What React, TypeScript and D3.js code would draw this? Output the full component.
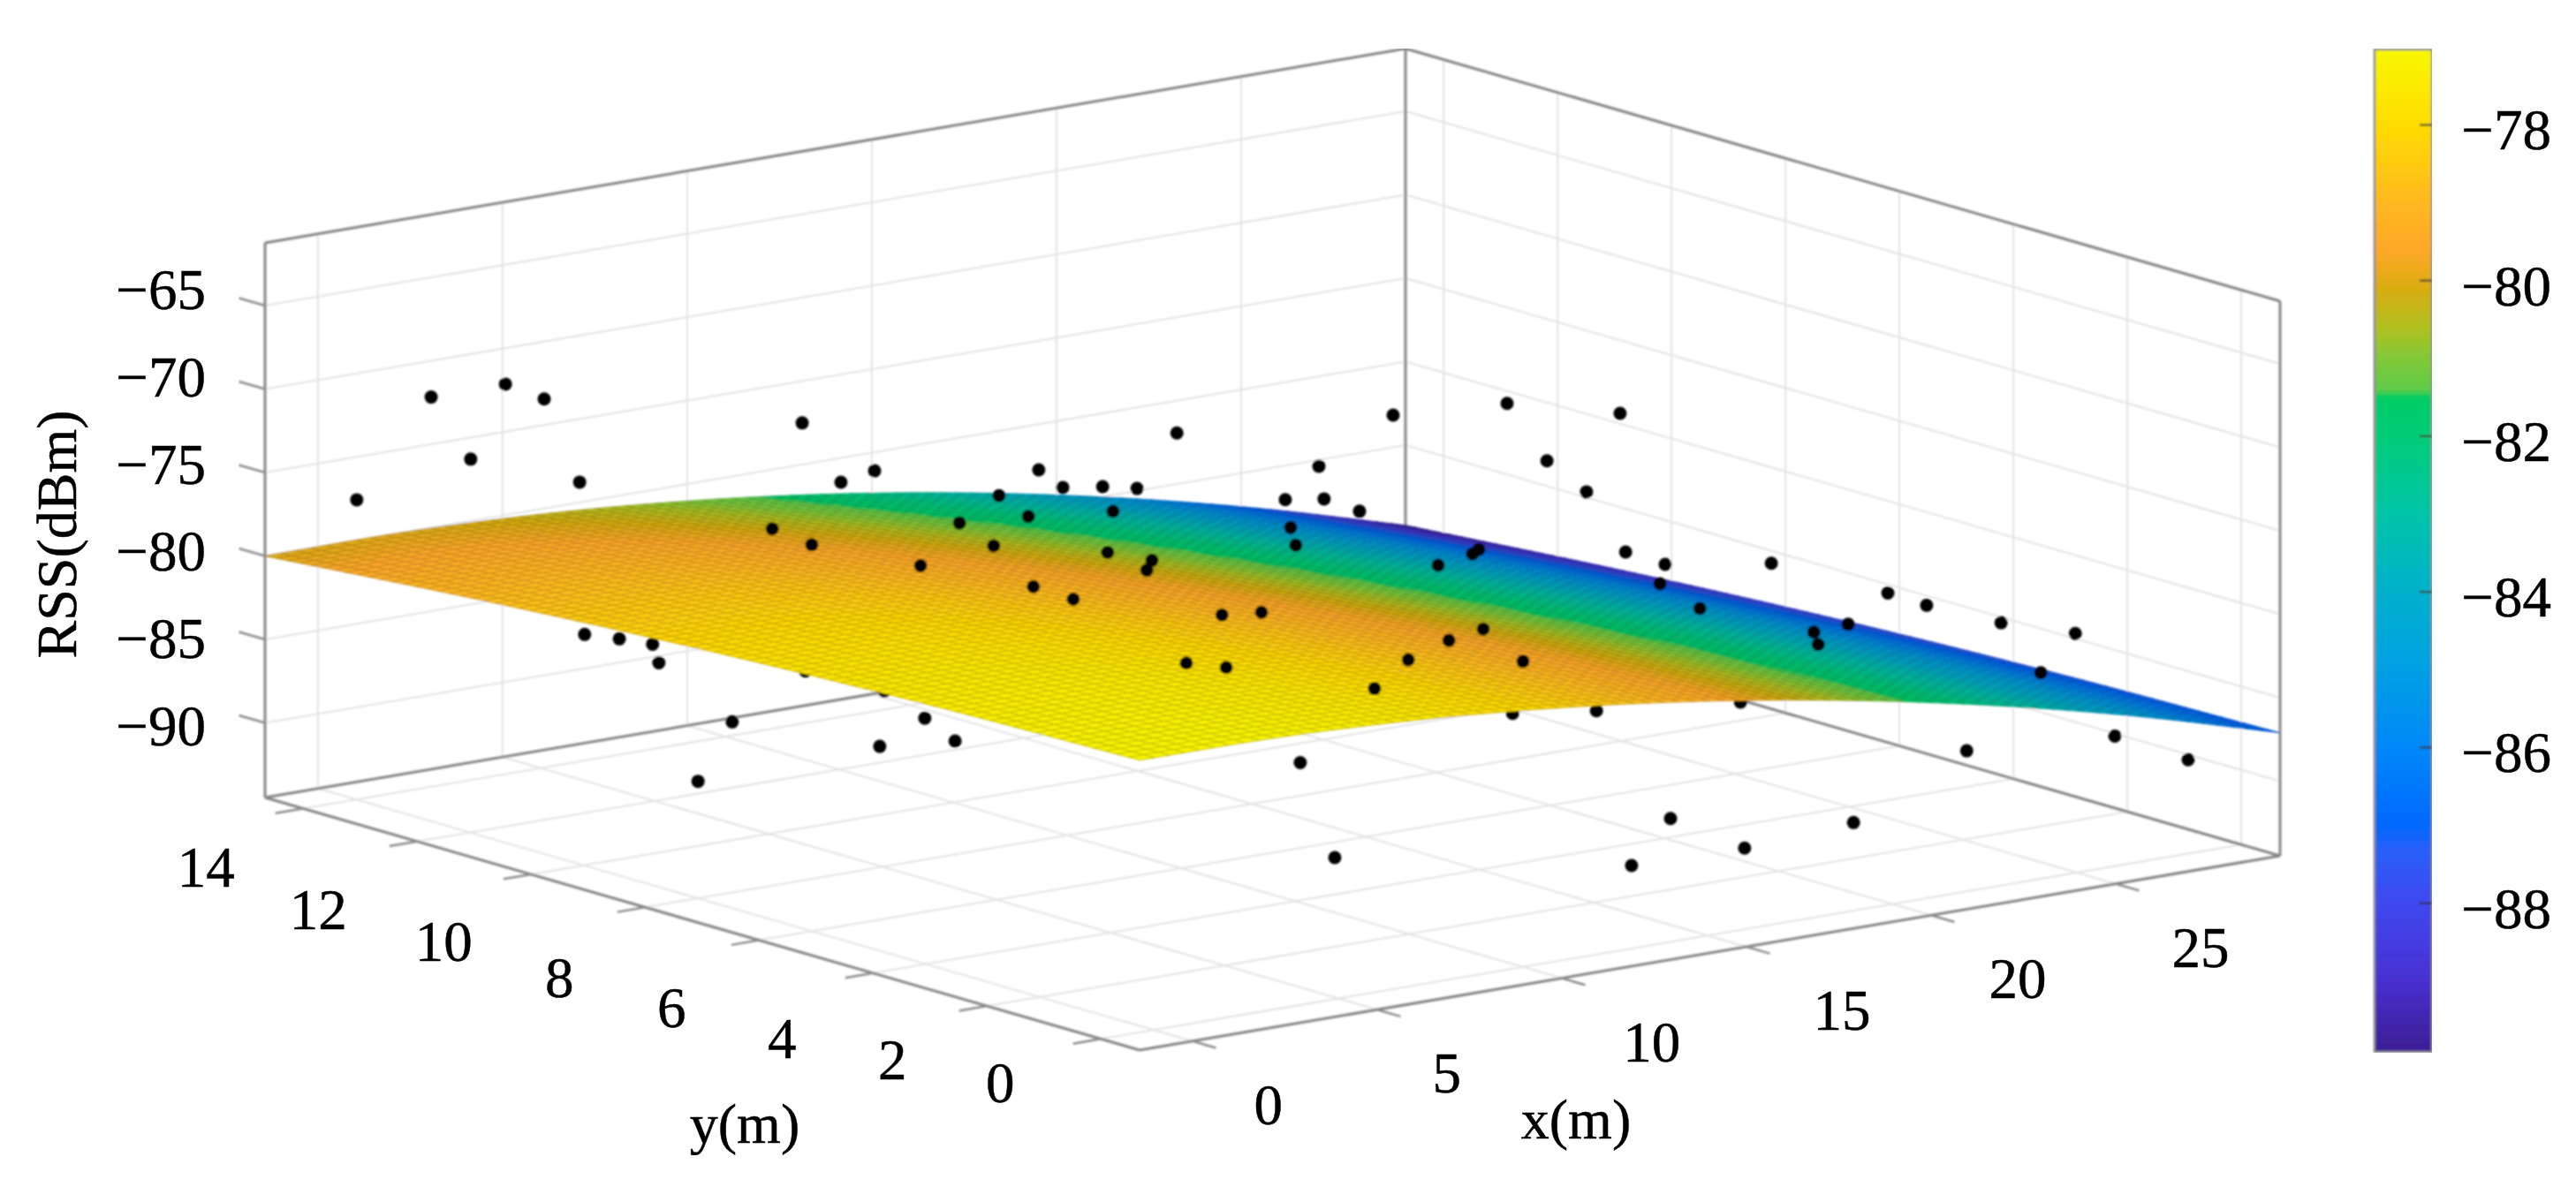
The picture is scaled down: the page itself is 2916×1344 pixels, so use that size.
import React, { useMemo } from "react";
import * as d3 from "d3";

// ---- axes ----
const X_LIMITS = [-1.43, 29.45];
const Y_LIMITS = [-0.68, 14.67];
const Z_LIMITS = [-94.47, -61.24];
const X_TICKS = [0, 5, 10, 15, 20, 25];
const Y_TICKS = [0, 2, 4, 6, 8, 10, 12, 14];
const Z_TICKS = [-65, -70, -75, -80, -85, -90];
const C_TICKS = [-78, -80, -82, -84, -86, -88];
const C_LIMITS = [-89.91, -77.03];

// ---- fitted surface, read at knots ----
const SURFACE_X = [-1.43, 2.43, 6.29, 10.15, 14.01, 17.87, 21.73, 25.59, 29.45];
const SURFACE_Y = [-0.68, 3.16, 6.99, 10.83, 14.67];
const SURFACE_Z_Y0 = [-77.1, -77.16, -77.56, -78.3, -79.38, -80.8, -82.56, -84.66, -87.1];
const SURFACE_Z_Y1 = [-77.44, -77.48, -77.87, -78.6, -79.67, -81.09, -82.85, -84.95, -87.39];
const SURFACE_Z_Y2 = [-78.03, -78.06, -78.43, -79.15, -80.22, -81.63, -83.38, -85.48, -87.93];
const SURFACE_Z_Y3 = [-78.89, -78.91, -79.27, -79.98, -81.03, -82.44, -84.19, -86.29, -88.74];
const SURFACE_Z_Y4 = [-80, -80, -80.35, -81.05, -82.1, -83.5, -85.25, -87.35, -89.8];
const SURFACE_ROWS = [SURFACE_Z_Y0, SURFACE_Z_Y1, SURFACE_Z_Y2, SURFACE_Z_Y3, SURFACE_Z_Y4];

// ---- measured points ----
const POINT_X = [0.02,-1.05,0.96,2.01,0.02,2.97,5.91,6.96,7.87,11.24,5.1,6.17,10.17,8.01,6.03,6.19,7.13,8.03,8.2,12.17,11.22,7.1,9.23,10.05,8.01,3.09,12.97,9.23,13.73,9.88,10.96,11.89,12.82,13.87,14.83,8.95,11.24,16.05,16.19,8.01,9.21,9.07,6,7.08,8.02,9.09,3.97,5.05,9.98,5.98,10.14,7.99,16.82,17.89,18.95,20.02,19.81,19.88,20.96,18.06,17.89,16.96,12.01,11.08,10,15.89,18.16,22.06,17.08,16,12.94,26.05,27.1,26.03,28.04,28.06,20.96,21.08,24.02,29.11,28.01,25.1,18.95,15.74,18.8,15.74];
const POINT_Y = [14,12,12,12,12,12,10,10,10,10,10,10,10,8,8,14,14,14,14,14,12,12,10,10,10,10,8,8,6,8,8,8,6,6,6,8,8,8,8,6,6,6,6,6,4,4,2,2,2,0,4,2,4,4,4,4,2,4,4,6,6,6,2,2,0,4,4,4,2,0,0,4,4,2,2,6,2,2,0,2,0,2,0,4,4,6];
const POINT_Z = [-76.52,-67.99,-67.97,-69.26,-72.11,-74.6,-70.19,-74.14,-73.8,-76.56,-76.23,-77.59,-77.79,-76.37,-76.82,-86.91,-87.53,-88.19,-89.37,-91.36,-90.23,-90.52,-89.13,-90.81,-90.36,-90.6,-71.48,-72.28,-71.79,-73.58,-73.94,-74.4,-73.45,-73.8,-74.9,-74.97,-75.53,-78.31,-79.42,-74.8,-75.73,-76.26,-76.09,-77.25,-76.57,-76.82,-75.96,-76.63,-78.03,-76.27,-86.22,-89.13,-70.66,-72.92,-76.92,-78.07,-75.95,-79.18,-81.07,-78.41,-78.61,-78.94,-76.95,-77.28,-76.16,-85.44,-86.14,-87.09,-90.21,-89.61,-89.5,-82.06,-83.19,-81.86,-83.26,-86.66,-80.51,-81.3,-82.13,-89.81,-88.84,-89.18,-89.19,-66.81,-68.56,-69.48];

// ---- colour map ----
const CMAP_VALUES = [-89.9,-89,-88,-87.3,-87,-86,-85,-84,-83,-82,-81.5,-81.4,-81,-80.6,-80.1,-79.6,-79,-78,-77];
const CMAP_COLORS = ["#3c1e94","#4830d0","#4048f0","#2860f8","#0068ff","#0088f8","#00a0e4","#00b0cc","#00c4a8","#00cc78","#00cc66","#60cc48","#80c838","#b0c020","#d8ac10","#ffa828","#ffb820","#ffdc00","#f8f800"];

// ---- layout ----
const FRONT = { x: 1290, y: 1189 };
const RIGHT = { x: 2581, y: 969 };
const LEFT = { x: 300, y: 903 };
const BOX_H = 628;
const FONT = "'Liberation Serif', 'Times New Roman', serif";
const X_LABEL_DX = [86, 79, 102, 108, 98, 96];
const Y_LABEL_DX = [-114, -107, -103, -99, -97, -99, -112, -110];
const Y_LABEL_DY = [50, 61, 74, 76, 80, 76, 77, 67];
const MESH = 76;

const xF = d3.scaleLinear().domain(X_LIMITS).range([0, 1]);
const yF = d3.scaleLinear().domain(Y_LIMITS).range([0, 1]);
const zF = d3.scaleLinear().domain(Z_LIMITS).range([0, 1]);
const colorOf = d3.scaleLinear<string>().domain(CMAP_VALUES).range(CMAP_COLORS).interpolate(d3.interpolateRgb).clamp(true);

function project(x: number, y: number, z: number): [number, number] {
  const t = xF(x), s = yF(y), h = zF(z);
  return [
    FRONT.x + t * (RIGHT.x - FRONT.x) + s * (LEFT.x - FRONT.x),
    FRONT.y + t * (RIGHT.y - FRONT.y) + s * (LEFT.y - FRONT.y) - h * BOX_H,
  ];
}

function cr(p: number[], u: number) {
  const n = p.length - 1;
  const i = Math.min(n - 1, Math.max(0, Math.floor(u)));
  const f = u - i;
  const a = i > 0 ? p[i - 1] : 2 * p[0] - p[1];
  const b = p[i], c = p[i + 1];
  const d = i + 2 <= n ? p[i + 2] : 2 * p[n] - p[n - 1];
  return 0.5 * (2 * b + (c - a) * f + (2 * a - 5 * b + 4 * c - d) * f * f + (3 * b - a - 3 * c + d) * f * f * f);
}
const xIdx = d3.scaleLinear().domain(X_LIMITS).range([0, SURFACE_X.length - 1]);
const yIdx = d3.scaleLinear().domain(Y_LIMITS).range([0, SURFACE_Y.length - 1]);
function surfaceZ(x: number, y: number) {
  const col = SURFACE_ROWS.map((r) => cr(r, xIdx(x)));
  return cr(col, yIdx(y));
}

const line2 = (a: [number, number], b: [number, number]) => d3.line()([a, b]) as string;

export default function App() {
  const [xa, xb] = X_LIMITS, [ya, yb] = Y_LIMITS, [za, zb] = Z_LIMITS;
  const points = useMemo(
    () => POINT_X.map((x, i) => {
      const y = POINT_Y[i], z = POINT_Z[i];
      const [cx, cy] = project(x, y, z);
      return { cx, cy, above: z > surfaceZ(x, y) };
    }),
    []
  );
  const cells = useMemo(() => {
    const xs = d3.range(MESH + 1).map((i) => xa + ((xb - xa) * i) / MESH);
    const ys = d3.range(MESH + 1).map((j) => ya + ((yb - ya) * j) / MESH);
    const zz = xs.map((x) => ys.map((y) => surfaceZ(x, y)));
    const pp = xs.map((x, i) => ys.map((y, j) => project(x, y, zz[i][j])));
    const out: { d: string; f: string; k: string }[] = [];
    for (let i = MESH - 1; i >= 0; i--) {
      for (let j = MESH - 1; j >= 0; j--) {
        const zm = (zz[i][j] + zz[i + 1][j] + zz[i][j + 1] + zz[i + 1][j + 1]) / 4;
        const f = colorOf(zm);
        out.push({
          d: d3.line()([pp[i][j], pp[i + 1][j], pp[i + 1][j + 1], pp[i][j + 1]]) + "Z",
          f,
          k: d3.color(f)!.darker(0.8).formatHex(),
        });
      }
    }
    return out;
  }, []);

  const gridC = "#e3e3e3", axisC = "#858585";
  const grid: string[] = [];
  X_TICKS.forEach((x) => {
    grid.push(line2(project(x, yb, za), project(x, yb, zb)));
    grid.push(line2(project(x, ya, za), project(x, yb, za)));
  });
  Y_TICKS.forEach((y) => {
    grid.push(line2(project(xb, y, za), project(xb, y, zb)));
    grid.push(line2(project(xa, y, za), project(xb, y, za)));
  });
  Z_TICKS.forEach((z) => {
    grid.push(line2(project(xa, yb, z), project(xb, yb, z)));
    grid.push(line2(project(xb, yb, z), project(xb, ya, z)));
  });
  const box = [
    line2(project(xa, yb, za), project(xa, yb, zb)),
    line2(project(xb, yb, za), project(xb, yb, zb)),
    line2(project(xb, ya, za), project(xb, ya, zb)),
    line2(project(xa, yb, zb), project(xb, yb, zb)),
    line2(project(xb, yb, zb), project(xb, ya, zb)),
    line2(project(xa, yb, za), project(xb, yb, za)),
    line2(project(xb, yb, za), project(xb, ya, za)),
    line2(project(xa, ya, za), project(xa, yb, za)),
    line2(project(xa, ya, za), project(xb, ya, za)),
  ];
  const xTickLen = 0.75, yTickLen = 0.75, zTickLen = 0.46;
  const ticks = [
    ...X_TICKS.map((x) => line2(project(x, ya, za), project(x, ya - xTickLen * 0.55, za))),
    ...Y_TICKS.map((y) => line2(project(xa, y, za), project(xa - yTickLen, y, za))),
    ...Z_TICKS.map((z) => line2(project(xa, yb, z), project(xa, yb + zTickLen, z))),
  ];
  const zLabelY = d3.scaleLinear().domain([-65, -90]).range([328, 822]);
  const cY = d3.scaleLinear().domain(C_LIMITS).range([1191, 56]);
  const barLevels = d3.range(0, 256).map((i) => C_LIMITS[0] + ((C_LIMITS[1] - C_LIMITS[0]) * (i + 0.5)) / 256);
  const barStep = (cY(C_LIMITS[0]) - cY(C_LIMITS[1])) / 256;
  const minus = (v: number) => String(v).replace("-", "\u2212");
  const tickFont = 65;
  const base = tickFont * 0.338;

  return (
    <svg width={2916} height={1344} viewBox="0 0 2916 1344" style={{ position: "absolute", left: 0, top: 0, background: "#fff" }}>
      <defs>
        <filter id="soft" x="0" y="0" width="100%" height="100%">
          <feGaussianBlur stdDeviation="0.8" />
        </filter>
        <filter id="softText" x="0" y="0" width="100%" height="100%">
          <feGaussianBlur stdDeviation="0.5" />
        </filter>
      </defs>
      <g filter="url(#soft)">
        <g fill="none" stroke={gridC} strokeWidth={2}>
          {grid.map((d, i) => <path key={i} d={d} />)}
        </g>
        <g fill="none" stroke={axisC} strokeWidth={3}>
          {box.map((d, i) => <path key={i} d={d} />)}
        </g>
        <g fill="none" stroke="#8c8c8c" strokeWidth={2.5}>
          {ticks.map((d, i) => <path key={i} d={d} />)}
        </g>
        <g>{points.filter((p) => !p.above).map((p, i) => <circle key={i} cx={p.cx} cy={p.cy} r={7.5} fill="#000" />)}</g>
        <g strokeWidth={0.9}>
          {cells.map((c, i) => <path key={i} d={c.d} fill={c.f} stroke={c.k} />)}
        </g>
        <g>{points.filter((p) => p.above).map((p, i) => <circle key={i} cx={p.cx} cy={p.cy} r={7.5} fill="#000" />)}</g>
        <g>
          {barLevels.map((v, i) => (
            <rect key={i} x={2688} width={65} y={cY(v) - barStep / 2 - 0.5} height={barStep + 1} fill={colorOf(v)} />
          ))}
          <rect x={2688} y={56} width={65} height={1135} fill="none" stroke="#8a8a8a" strokeWidth={2.5} />
          {C_TICKS.map((v) => (
            <path key={v} d={d3.line()([[2739, cY(v)], [2753, cY(v)]]) as string} stroke="#333" strokeWidth={2} fill="none" />
          ))}
        </g>
      </g>
      <g filter="url(#softText)" fontFamily={FONT} fontSize={tickFont} fill="#000" stroke="#000" strokeWidth={0.5}>
        {Z_TICKS.map((z) => (
          <text key={z} x={233} y={zLabelY(z) + base} textAnchor="end">{minus(z)}</text>
        ))}
        {X_TICKS.map((x, i) => {
          const [px, py] = project(x, ya, za);
          return <text key={x} x={px + X_LABEL_DX[i]} y={py + 72 + base} textAnchor="middle">{x}</text>;
        })}
        {Y_TICKS.map((y, i) => {
          const [px, py] = project(xa, y, za);
          return <text key={y} x={px + Y_LABEL_DX[i]} y={py + Y_LABEL_DY[i] + base} textAnchor="middle">{y}</text>;
        })}
        <text x={86} y={605} fontSize={64} textAnchor="middle" transform="rotate(-90 86 605)">RSS(dBm)</text>
        <text x={843} y={1294} fontSize={64} textAnchor="middle">y(m)</text>
        <text x={1784} y={1289} fontSize={64} textAnchor="middle">x(m)</text>
        {C_TICKS.map((v) => (
          <text key={v} x={2888} y={cY(v) + 6 + base} textAnchor="end">{minus(v)}</text>
        ))}
      </g>
    </svg>
  );
}
